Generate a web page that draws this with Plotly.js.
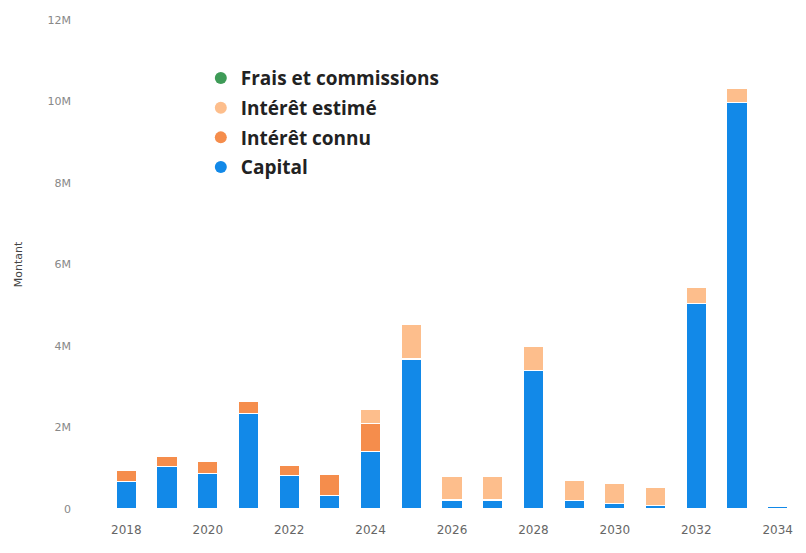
<!DOCTYPE html>
<html>
<head>
<meta charset="utf-8">
<script src="https://cdn.plot.ly/plotly-3.0.1.min.js"></script>
<style>
html,body{margin:0;padding:0;background:#fff;}
#chart{width:806px;height:553px;}
</style>
</head>
<body>
<div id="chart"></div>
<script>
const years = [2018,2019,2020,2021,2022,2023,2024,2025,2026,2027,2028,2029,2030,2031,2032,2033,2034];
const capital      = [0.67,1.04,0.88,2.35,0.82,0.34,1.41,3.68,0.22,0.22,3.40,0.21,0.14,0.09,5.04,9.98,0.07];
const interetConnu = [0.28,0.26,0.29,0.28,0.24,0.51,0.68,0,0,0,0,0,0,0,0,0,0];
const interetEstime= [0,0,0,0,0,0,0.36,0.85,0.58,0.58,0.60,0.49,0.48,0.45,0.40,0.33,0];
const frais        = [0,0,0,0,0,0,0,0,0,0,0,0,0,0,0,0,0];
const yTicks = [0,2,4,6,8,10,12];
const yTickText = ['0','2M','4M','6M','8M','10M','12M'];
const xTicks = [2018,2020,2022,2024,2026,2028,2030,2032,2034];

const M = v => v.map(x => x*1e6);
const colors = {
  capital:'#1289E8',
  connu:'#F58D4C',
  estime:'#FDBE8C',
  frais:'#3E9B57'
};
const barLine = {color:'#ffffff', width:1.2};
const bar = (name, vals, color) => ({
  type:'bar', x:years, y:M(vals), name:name, showlegend:false,
  marker:{color:color, line:barLine}, width:0.5, hoverinfo:'x+y+name'
});
const leg = (name, color, g) => ({
  type:'scatter', mode:'markers', x:[null], y:[null], name:name, legendgroup:g,
  marker:{symbol:'circle', size:17, color:color}, showlegend:true
});

const data = [
  bar('Capital', capital, colors.capital),
  bar('Intérêt connu', interetConnu, colors.connu),
  bar('Intérêt estimé', interetEstime, colors.estime),
  bar('Frais et commissions', frais, colors.frais),
  leg('Frais et commissions', colors.frais, 'g1'),
  leg('Intérêt estimé', colors.estime, 'g2'),
  leg('Intérêt connu', colors.connu, 'g3'),
  leg('Capital', colors.capital, 'g4')
];

const layout = {
  width:806, height:553,
  margin:{l:106, r:8, t:20, b:44},
  paper_bgcolor:'#ffffff', plot_bgcolor:'#ffffff',
  barmode:'stack',
  font:{family:'"Open Sans", "DejaVu Sans", sans-serif', color:'#777'},
  xaxis:{
    range:[2017.5,2034.5], tickvals:xTicks, ticktext:xTicks.map(String),
    showgrid:false, zeroline:false, showline:false, ticks:'',
    tickfont:{size:12, color:'#666', family:'"DejaVu Sans", sans-serif'},
    ticklabelstandoff:12
  },
  yaxis:{
    range:[0,12e6], tickvals:yTicks.map(v=>v*1e6), ticktext:yTickText,
    showgrid:false, zeroline:false, showline:false, ticks:'',
    tickfont:{size:11, color:'#888', family:'"DejaVu Sans", sans-serif'},
    ticklabelstandoff:34,
    title:{text:'Montant', standoff:22, font:{size:11, color:'#444', family:'"DejaVu Sans", sans-serif'}}
  },
  showlegend:true,
  legend:{
    x:0.137, y:0.92, xanchor:'left', yanchor:'top',
    traceorder:'grouped',
    bgcolor:'rgba(255,255,255,0)',
    font:{size:19, color:'#222', family:'"Open Sans", sans-serif', weight:'bold'},
    itemsizing:'constant', tracegroupgap:2, itemwidth:30
  }
};

Plotly.newPlot('chart', data, layout, {displayModeBar:false, staticPlot:true});
</script>
</body>
</html>
